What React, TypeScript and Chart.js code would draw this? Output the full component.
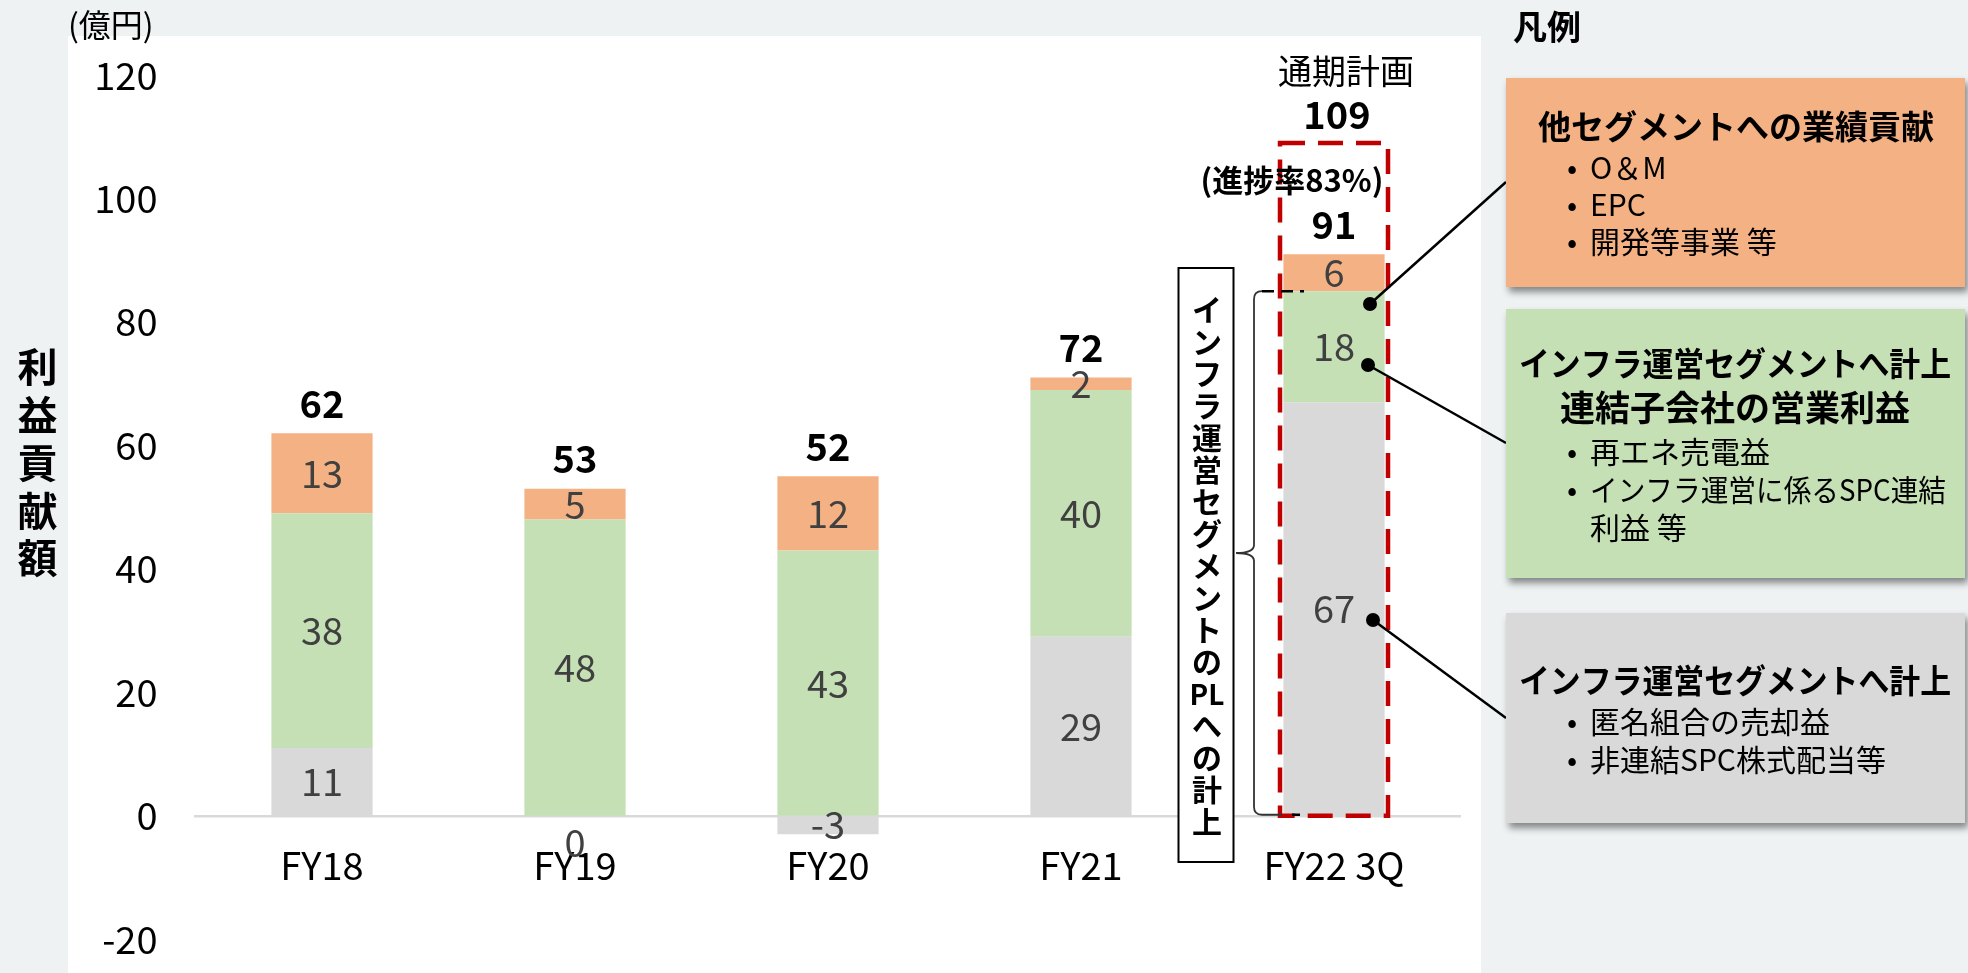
import React, { useEffect, useRef } from "react";
import { Chart, registerables } from "chart.js";

Chart.register(...registerables);

// ---------- data ----------
const categories = ["FY18", "FY19", "FY20", "FY21", "FY22 3Q"];
const grayValues = [11, 0, -3, 29, 67]; // インフラ運営セグメントへ計上（匿名組合の売却益 等）
const greenValues = [38, 48, 43, 40, 18]; // 連結子会社の営業利益
const orangeValues = [13, 5, 12, 2, 6]; // 他セグメントへの業績貢献
const totalLabels = [62, 53, 52, 72, 91];
const planValue = 109;
const planTitle = "通期計画";
const progressText = "(進捗率83%)";
const yMin = -20;
const yMax = 120;
const yStep = 20;

const yAxisTitle = ["利", "益", "貢", "献", "額"];
const unitText = "(億円)";
const legendHeader = "凡例";
const verticalNote = ["イ", "ン", "フ", "ラ", "運", "営", "セ", "グ", "メ", "ン", "ト", "の", "PL", "へ", "の", "計", "上"];

const legendOrangeTitle = ["他セグメントへの業績貢献"];
const legendOrangeBullets = ["O＆M", "EPC", "開発等事業 等"];
const legendGreenTitle = ["インフラ運営セグメントへ計上", "連結子会社の営業利益"];
const legendGreenBullets = ["再エネ売電益", "インフラ運営に係るSPC連結"];
const legendGreenCont = "利益 等";
const legendGrayTitle = ["インフラ運営セグメントへ計上"];
const legendGrayBullets = ["匿名組合の売却益", "非連結SPC株式配当等"];

// ---------- style ----------
const C_GRAY = "#d9d9d9";
const C_GREEN = "#c5e0b4";
const C_ORANGE = "#f4b183";
const C_RED = "#c00000";
const C_BG = "#eef2f3";
const FONT = '"Noto Sans CJK JP", "Noto Sans", sans-serif';

function txt(ctx: CanvasRenderingContext2D, s: string, x: number, y: number, size: number, bold = false, align: CanvasTextAlign = "center", color = "#000", maxW?: number) {
  ctx.font = `${bold ? "bold " : ""}${size}px ${FONT}`;
  ctx.fillStyle = color;
  ctx.textAlign = align;
  ctx.textBaseline = "middle";
  if (maxW) ctx.fillText(s, x, y, maxW);
  else ctx.fillText(s, x, y);
}

const backgroundPlugin = {
  id: "pageBackground",
  beforeDraw(chart: any) {
    const ctx = chart.ctx;
    ctx.save();
    ctx.fillStyle = C_BG;
    ctx.fillRect(0, 0, chart.width, chart.height);
    ctx.fillStyle = "#ffffff";
    ctx.fillRect(68, 36, 1413, chart.height - 36);
    ctx.restore();
  },
};

const dataLabelPlugin = {
  id: "segmentLabels",
  afterDatasetsDraw(chart: any) {
    const ctx = chart.ctx;
    ctx.save();
    chart.data.datasets.forEach((ds: any, di: number) => {
      const meta = chart.getDatasetMeta(di);
      meta.data.forEach((bar: any, i: number) => {
        const v = ds.data[i];
        const p = bar.getProps(["x", "y", "base"], true);
        let ty = (p.y + p.base) / 2;
        if (v === 0) ty = p.base + 27;
        txt(ctx, String(v), p.x, ty, 38, false, "center", "#404040");
      });
    });
    // totals
    const ys = chart.scales.y;
    const xs = chart.scales.x;
    totalLabels.forEach((t, i) => {
      const pos = [grayValues[i], greenValues[i], orangeValues[i]].filter((v) => v > 0).reduce((a, b) => a + b, 0);
      txt(ctx, String(t), xs.getPixelForValue(i), ys.getPixelForValue(pos) - 30, 38, true);
    });
    ctx.restore();
  },
};

const annotationPlugin = {
  id: "annotations",
  afterDraw(chart: any) {
    const ctx: CanvasRenderingContext2D = chart.ctx;
    const ys = chart.scales.y;
    const xs = chart.scales.x;
    const y0 = ys.getPixelForValue(0);
    const cx = xs.getPixelForValue(categories.length - 1);
    ctx.save();

    // axis title & unit
    yAxisTitle.forEach((ch, i) => txt(ctx, ch, 37.5, 367 + i * 47.8, 40, true));
    txt(ctx, unitText, 68, 25, 32, false, "left");
    txt(ctx, legendHeader, 1513, 27, 34, true, "left");

    // plan box
    const yPlan = ys.getPixelForValue(planValue);
    ctx.strokeStyle = C_RED;
    ctx.lineWidth = 4.5;
    ctx.setLineDash([25, 13]);
    ctx.strokeRect(cx - 54, yPlan, 108, y0 - yPlan);
    ctx.setLineDash([]);
    txt(ctx, planTitle, cx + 12, yPlan - 72, 34);
    txt(ctx, String(planValue), cx + 3, yPlan - 29, 38, true);
    txt(ctx, progressText, cx - 42, 180, 31, true);

    // vertical note box
    ctx.fillStyle = "#fff";
    ctx.fillRect(1178.5, 268, 55, 594);
    ctx.strokeStyle = "#000";
    ctx.lineWidth = 2;
    ctx.strokeRect(1178.5, 268, 55, 594);
    verticalNote.forEach((ch, i) => txt(ctx, ch, 1207, 310 + i * 32, ch.length > 1 ? 28 : 30, true));

    // brace
    const bTop = ys.getPixelForValue(grayValues[4] + greenValues[4]);
    const bBot = y0 - 1;
    const mid = (bTop + bBot) / 2;
    const sx = 1254;
    ctx.strokeStyle = "#333";
    ctx.lineWidth = 1.8;
    ctx.beginPath();
    ctx.moveTo(sx + 8, bTop);
    ctx.quadraticCurveTo(sx, bTop, sx, bTop + 8);
    ctx.lineTo(sx, mid - 8);
    ctx.quadraticCurveTo(sx, mid, sx - 18, mid);
    ctx.quadraticCurveTo(sx, mid, sx, mid + 8);
    ctx.lineTo(sx, bBot - 8);
    ctx.quadraticCurveTo(sx, bBot, sx + 8, bBot);
    ctx.lineTo(sx + 28, bBot);
    ctx.stroke();
    ctx.strokeStyle = "#000";
    ctx.lineWidth = 2.5;
    ctx.setLineDash([12, 7]);
    ctx.beginPath();
    ctx.moveTo(sx + 8, bTop);
    ctx.lineTo(1304, bTop);
    ctx.moveTo(sx + 38, bBot);
    ctx.lineTo(1300, bBot);
    ctx.stroke();
    ctx.setLineDash([]);

    // leader lines
    const leaders = [
      [cx + 36, 304, 1506, 182],
      [cx + 34, 365, 1506, 443],
      [cx + 39, 620, 1506, 718],
    ];
    ctx.strokeStyle = "#000";
    ctx.lineWidth = 2.5;
    leaders.forEach(([x1, y1, x2, y2]) => {
      ctx.beginPath();
      ctx.moveTo(x1, y1);
      ctx.lineTo(x2, y2);
      ctx.stroke();
      ctx.beginPath();
      ctx.arc(x1, y1, 7, 0, Math.PI * 2);
      ctx.fillStyle = "#000";
      ctx.fill();
    });

    // legend boxes
    const box = (y: number, h: number, color: string) => {
      ctx.save();
      ctx.shadowColor = "rgba(0,0,0,0.45)";
      ctx.shadowBlur = 7;
      ctx.shadowOffsetX = 3;
      ctx.shadowOffsetY = 5;
      ctx.fillStyle = color;
      ctx.fillRect(1506, y, 459, h);
      ctx.restore();
    };
    const bullet = (s: string, y: number) => {
      txt(ctx, "•", 1572, y, 30);
      txt(ctx, s, 1590, y, 30, false, "left", "#000", 356);
    };
    box(78, 209, C_ORANGE);
    box(309, 269, C_GREEN);
    box(613, 210, C_GRAY);

    txt(ctx, legendOrangeTitle[0], 1736, 126, 33, true, "center", "#000", 396);
    legendOrangeBullets.forEach((s, i) => bullet(s, 168 + i * 37));

    txt(ctx, legendGreenTitle[0], 1735, 363, 33, true, "center", "#000", 432);
    txt(ctx, legendGreenTitle[1], 1735, 408, 35, true, "center", "#000", 366);
    legendGreenBullets.forEach((s, i) => bullet(s, 452 + i * 38));
    txt(ctx, legendGreenCont, 1590, 528, 30, false, "left");

    txt(ctx, legendGrayTitle[0], 1735, 680, 33, true, "center", "#000", 432);
    legendGrayBullets.forEach((s, i) => bullet(s, 722 + i * 38));

    ctx.restore();
  },
};

export default function App() {
  const ref = useRef<HTMLCanvasElement | null>(null);
  useEffect(() => {
    document.body.style.margin = "0";
    const chart = new Chart(ref.current as HTMLCanvasElement, {
      type: "bar",
      data: {
        labels: categories,
        datasets: [
          { label: "gray", data: grayValues, backgroundColor: C_GRAY },
          { label: "green", data: greenValues, backgroundColor: C_GREEN },
          { label: "orange", data: orangeValues, backgroundColor: C_ORANGE },
        ],
      },
      options: {
        animation: false,
        responsive: false,
        devicePixelRatio: 1,
        datasets: { bar: { categoryPercentage: 0.4, barPercentage: 1, borderWidth: 0 } },
        layout: { padding: { left: 0, right: 507.5, top: 75.2, bottom: 33.8 } },
        plugins: { legend: { display: false }, tooltip: { enabled: false } },
        scales: {
          x: {
            stacked: true,
            position: { y: 0 } as any,
            grid: { display: false, drawTicks: false },
            border: { display: true, color: "#d9d9d9", width: 2.5 },
            ticks: { font: { family: FONT, size: 38 }, color: "#000", padding: 27, maxRotation: 0 },
          },
          y: {
            stacked: true,
            min: yMin,
            max: yMax,
            grid: { display: false, drawTicks: false },
            border: { display: false },
            ticks: { stepSize: yStep, font: { family: FONT, size: 38 }, color: "#000", padding: 38 },
            afterFit: (scale: any) => {
              scale.width = 195.5;
              scale.paddingTop = 0;
              scale.paddingBottom = 0;
            },
          },
        },
      },
      plugins: [backgroundPlugin, dataLabelPlugin, annotationPlugin],
    });
    return () => chart.destroy();
  }, []);
  return (
    <div style={{ width: 1968, height: 973, position: "relative", overflow: "hidden" }}>
      <canvas ref={ref} width={1968} height={973} style={{ display: "block", width: 1968, height: 973 }} />
    </div>
  );
}
